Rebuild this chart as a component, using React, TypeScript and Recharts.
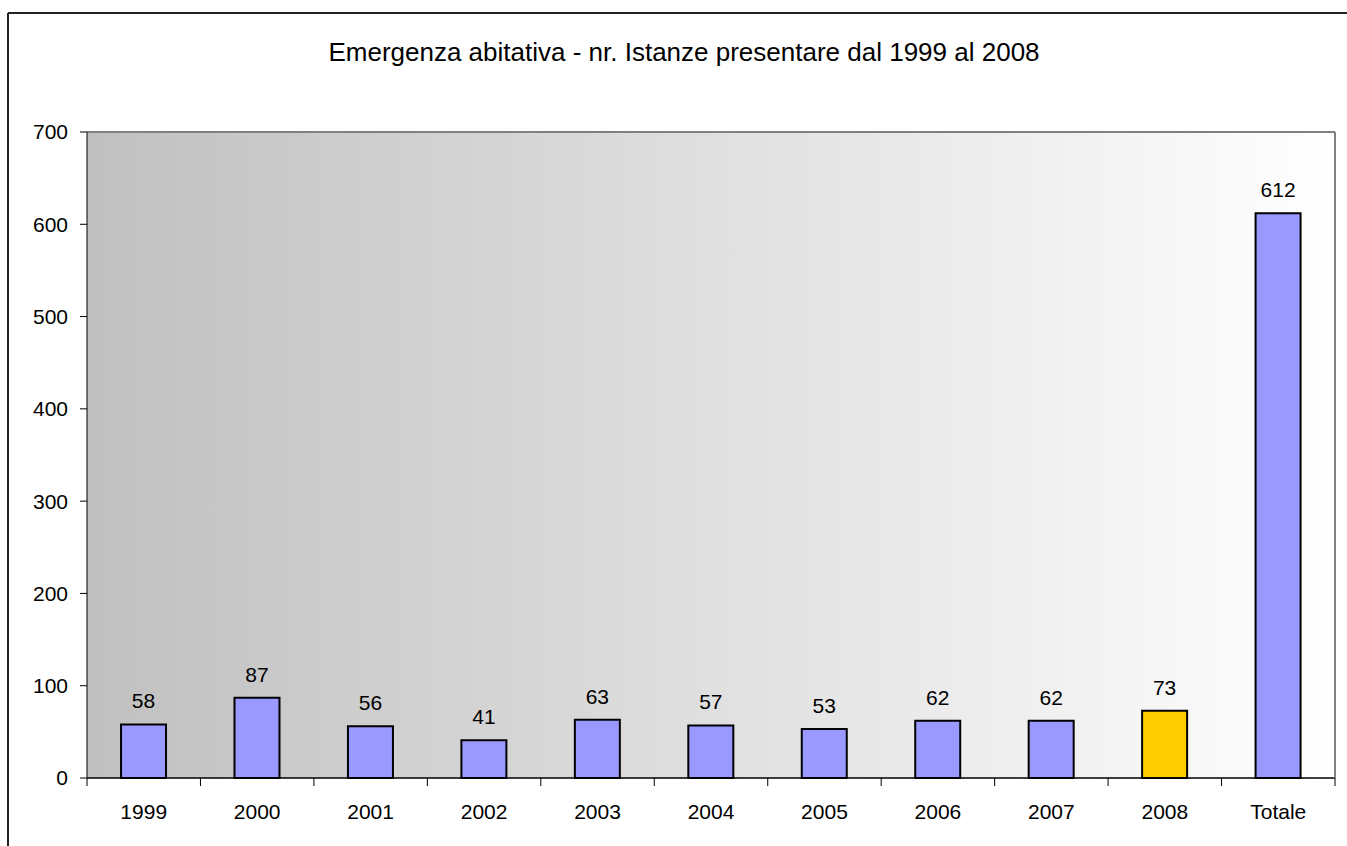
import React from 'react';
import { BarChart, Bar, XAxis, YAxis, CartesianGrid, ReferenceLine, LabelList, Cell } from 'recharts';

const TITLE = 'Emergenza abitativa - nr. Istanze presentare dal 1999 al 2008';
const categories = ['1999', '2000', '2001', '2002', '2003', '2004', '2005', '2006', '2007', '2008', 'Totale'];
const values = [58, 87, 56, 41, 63, 57, 53, 62, 62, 73, 612];
const yTicks = [0, 100, 200, 300, 400, 500, 600, 700];
const highlightCategory = '2008';

const FONT = '"Liberation Sans", Arial, sans-serif';
const BAR_FILL = '#9999FF';
const HIGHLIGHT_FILL = '#FFCC00';

const data = categories.map((c, i) => ({ name: c, value: values[i] }));

const XTick = (props: any) => {
  const { x, y, payload, index } = props;
  const half = payload && typeof payload.offset === 'number' && payload.offset > 0
    ? payload.offset
    : (props.width || 1248) / categories.length / 2;
  const isLast = index === categories.length - 1;
  return (
    <g>
      <line x1={x - half} y1={y} x2={x - half} y2={y + 8} stroke="#000" strokeWidth={1} />
      {isLast && <line x1={x + half} y1={y} x2={x + half} y2={y + 8} stroke="#000" strokeWidth={1} />}
      <text x={x} y={y + 41} textAnchor="middle" fill="#000" fontSize={21} fontFamily={FONT}>
        {payload.value}
      </text>
    </g>
  );
};

export default function App() {
  return (
    <div style={{ position: 'absolute', left: 0, top: 0, width: 1347, height: 846, overflow: 'hidden', background: '#fff' }}>
      <svg width={1347} height={846} style={{ position: 'absolute', left: 0, top: 0 }}>
        <line x1={8} y1={13} x2={1347} y2={13} stroke="#222" strokeWidth={2} />
        <line x1={8} y1={13} x2={8} y2={846} stroke="#222" strokeWidth={2} />
      </svg>
      <div style={{ position: 'absolute', left: 0, top: 0 }}>
        <BarChart
          width={1347}
          height={846}
          data={data}
          margin={{ top: 132, right: 0, bottom: 0, left: 0 }}
          barCategoryGap="30%"
        >
          <defs>
            <linearGradient id="bgGrad" x1="0" y1="0" x2="1" y2="0">
              <stop offset="0%" stopColor="#C0C0C0" />
              <stop offset="100%" stopColor="#FFFFFF" />
            </linearGradient>
          </defs>
          <text x={684} y={61} textAnchor="middle" fontSize={26} fontFamily={FONT} fill="#000">
            {TITLE}
          </text>
          <CartesianGrid vertical={false} stroke="#000" fill="url(#bgGrad)" fillOpacity={1} />
          <XAxis
            dataKey="name"
            height={68}
            tickSize={0}
            tickMargin={0}
            tickLine={false}
            axisLine={{ stroke: '#000' }}
            tick={<XTick />}
            interval={0}
          />
          <YAxis
            yAxisId="left"
            width={87}
            domain={[0, 700]}
            ticks={yTicks}
            interval={0}
            tickSize={7}
            tickMargin={12}
            axisLine={{ stroke: '#000' }}
            tickLine={{ stroke: '#000' }}
            tick={{ fill: '#000', fontSize: 21, fontFamily: FONT }}
          />
          <YAxis
            yAxisId="right"
            orientation="right"
            width={12}
            domain={[0, 700]}
            tick={false}
            tickLine={false}
            axisLine={{ stroke: '#808080', strokeWidth: 2 }}
          />
          <ReferenceLine yAxisId="left" y={700} stroke="#808080" strokeWidth={2} />
          <Bar yAxisId="left" dataKey="value" stroke="#000" strokeWidth={2} isAnimationActive={false}>
            {data.map((d) => (
              <Cell key={d.name} fill={d.name === highlightCategory ? HIGHLIGHT_FILL : BAR_FILL} />
            ))}
            <LabelList dataKey="value" position="top" offset={16} fill="#000" fontSize={21} fontFamily={FONT} />
          </Bar>
        </BarChart>
      </div>
    </div>
  );
}
